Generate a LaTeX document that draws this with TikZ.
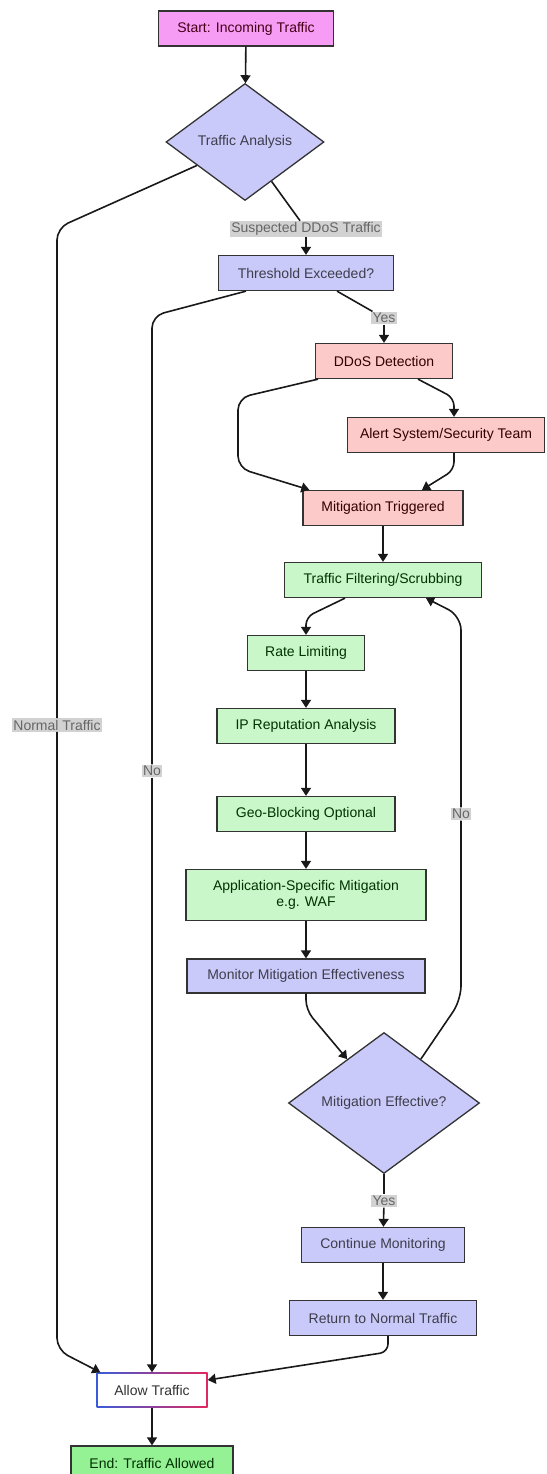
\documentclass[tikz,border=0pt]{standalone}
\usepackage{fontspec}
\setmainfont{Liberation Sans}
\usetikzlibrary{shapes.geometric,arrows.meta}
\definecolor{startpink}{HTML}{F79CF4}
\definecolor{lav}{HTML}{CACAFA}
\definecolor{rose}{HTML}{FDCACA}
\definecolor{mint}{HTML}{CAF7CA}
\definecolor{endgreen}{HTML}{94F294}
\definecolor{edgegray}{HTML}{333333}
\definecolor{lblgray}{HTML}{D2D2D2}
\definecolor{allowblue}{HTML}{3A5BD9}
\definecolor{allowred}{HTML}{E02860}

\begin{document}
\begin{tikzpicture}[x=1pt, y=-1pt,
        font=\fontsize{14}{16}\selectfont,
        box/.style={draw=edgegray, line width=1.3pt, minimum height=35pt, inner sep=0pt, align=center},
        startbox/.style={box, fill=startpink, text=black!65!purple},
        lavbox/.style={box, fill=lav, text=black!70!lav},
        rosebox/.style={box, fill=rose, text=black!80!red},
        mintbox/.style={box, fill=mint, text=black!80!green},
        endbox/.style={box, fill=endgreen, text=black!82!green},
        decision/.style={diamond, draw=edgegray, line width=1.3pt, fill=lav, text=black!70!lav, inner sep=0pt},
        allowbox/.style={fill=white, minimum width=111pt, minimum height=35pt, inner sep=0pt, text=edgegray,
            path picture={
                \shade[left color=allowblue, right color=allowred] (path picture bounding box.south west) rectangle (path picture bounding box.north east);
                \fill[white] ([shift={(1.5pt,1.5pt)}]path picture bounding box.south west) rectangle ([shift={(-1.5pt,-1.5pt)}]path picture bounding box.north east);}},
        lbl/.style={fill=lblgray, text=black!60, inner sep=1.5pt},
        edgeline/.style={line width=1.6pt, draw=black!90},
        arr/.style={edgeline, -{Triangle[length=8pt,width=10pt]}}]
        \useasboundingbox (0,0) rectangle (546,1474);

        \node[startbox, minimum width=175pt] (incoming) at (246,28.5) {Start: Incoming Traffic};
        \node[decision, minimum width=158pt, minimum height=117pt] (analysis) at (245,142) {Traffic Analysis};
        \node[lavbox, minimum width=175pt] (threshold) at (306,273) {Threshold Exceeded?};
        \node[rosebox, minimum width=137pt] (detection) at (384,361) {DDoS Detection};
        \node[rosebox, minimum width=197pt] (alert) at (446,435) {Alert System/Security Team};
        \node[rosebox, minimum width=160pt] (triggered) at (383,508) {Mitigation Triggered};
        \node[mintbox, minimum width=197pt] (filtering) at (383,580) {Traffic Filtering/Scrubbing};
        \node[mintbox, minimum width=117pt] (ratelimit) at (306,653) {Rate Limiting};
        \node[mintbox, minimum width=178pt] (reputation) at (306,726) {IP Reputation Analysis};
        \node[mintbox, minimum width=178pt] (geoblock) at (306,814) {Geo-Blocking Optional};
        \node[mintbox, minimum width=240pt, minimum height=51pt] (appspecific) at (306,895) {Application-Specific Mitigation\\e.g. WAF};
        \node[lavbox, minimum width=238pt, minimum height=34pt] (monitor) at (306,976) {Monitor Mitigation Effectiveness};
        \node[decision, minimum width=191pt, minimum height=141pt] (effective) at (384,1103) {Mitigation Effective?};
        \node[lavbox, minimum width=163pt] (continue) at (383,1245) {Continue Monitoring};
        \node[lavbox, minimum width=187pt] (return) at (383,1318) {Return to Normal Traffic};
        \node[allowbox] (allow) at (152,1390) {Allow Traffic};
        \node[endbox, minimum width=162pt] (finish) at (152,1463.5) {End: Traffic Allowed};

        \node[lbl] (lnormal) at (57,725) {Normal Traffic};
        \node[lbl] (lsuspect) at (306,229) {Suspected DDoS Traffic};
        \node[lbl] (lyesa) at (384,318) {Yes};
        \node[lbl] (lnoa) at (152,771) {No};
        \node[lbl] (lnob) at (461,814) {No};
        \node[lbl] (lyesb) at (384,1201) {Yes};

        \draw[arr] (incoming) -- (analysis);
        \draw[edgeline, rounded corners=12pt] (analysis.206) -- (57,228) -- (lnormal);
        \draw[arr, rounded corners=12pt] (lnormal) -- (57,1350) -- ([xshift=4pt]allow.north west);
        \draw[edgeline] (analysis.-56) -- (lsuspect);
        \draw[arr] (lsuspect) -- (threshold);
        \draw[edgeline, rounded corners=12pt] ([xshift=-60pt]threshold.south) -- (152,316) -- (lnoa);
        \draw[arr] (lnoa) -- (allow);
        \draw[edgeline] ([xshift=31pt]threshold.south) -- (lyesa);
        \draw[arr] (lyesa) -- (detection);
        \draw[arr, rounded corners=12pt] ([xshift=-66pt]detection.south) -- (238,398) -- (238,468) -- ([xshift=7pt]triggered.north west);
        \draw[arr, rounded corners=8pt] ([xshift=34pt]detection.south) -- (454,398) -- ([xshift=8pt]alert.north);
        \draw[arr, rounded corners=8pt] ([xshift=8pt]alert.south) -- (454,470) -- ([xshift=39pt]triggered.north);
        \draw[arr] (triggered) -- (filtering);
        \draw[arr, rounded corners=8pt] ([xshift=-38pt]filtering.south) -- (306,617) -- (ratelimit);
        \draw[arr] (ratelimit) -- (reputation);
        \draw[arr] (reputation) -- (geoblock);
        \draw[arr] (geoblock) -- (appspecific);
        \draw[arr] (appspecific) -- (monitor);
        \draw[arr, rounded corners=10pt] (monitor) -- (306,1010) -- (effective.130);
        \draw[edgeline, rounded corners=14pt] (effective.50) -- (461,1000) -- (lnob);
        \draw[arr, rounded corners=14pt] (lnob) -- (461,616) -- ([xshift=43pt]filtering.south);
        \draw[edgeline] (effective) -- (lyesb);
        \draw[arr] (lyesb) -- (continue);
        \draw[arr] (continue) -- (return);
        \draw[arr, rounded corners=8pt] ([xshift=5pt]return.south) -- (388,1352) -- ([yshift=10pt]allow.east);
        \draw[arr] (allow) -- (finish);
\end{tikzpicture}
\end{document}
